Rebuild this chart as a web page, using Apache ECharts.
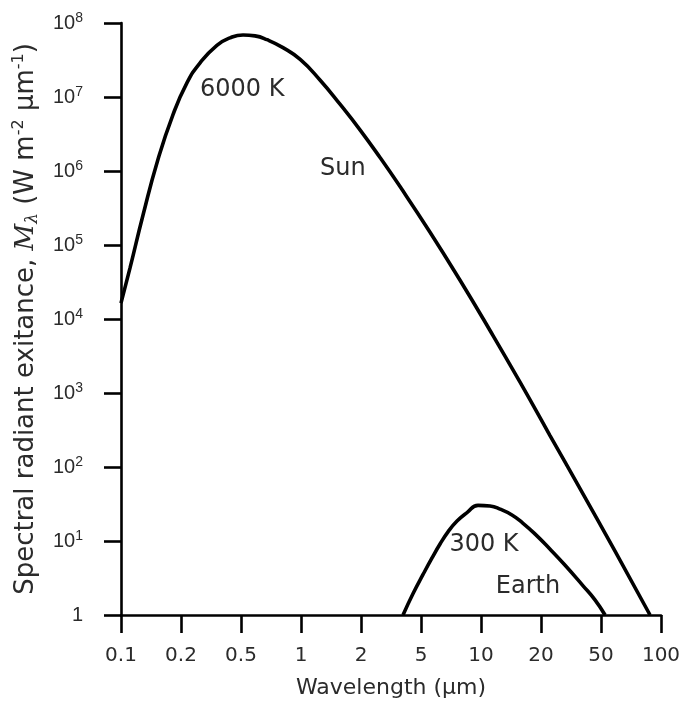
<!DOCTYPE html>
<html>
<head>
<meta charset="utf-8">
<script src="https://cdn.jsdelivr.net/npm/echarts@6/dist/echarts.min.js"></script>
<style>
  html, body { margin: 0; padding: 0; background: #fff; }
  #chart { width: 686px; height: 705px; }
</style>
</head>
<body>
<div id="chart"></div>
<script>
// Tick labels of the (equally spaced 1-2-5) wavelength axis, in µm
const xTicks = [0.1, 0.2, 0.5, 1, 2, 5, 10, 20, 50, 100];
const xTickLabels = ['0.1', '0.2', '0.5', '1', '2', '5', '10', '20', '50', '100'];

// Sun (6000 K): wavelength (µm) and spectral radiant exitance (W m-2 µm-1)
const sunWavelength = [0.1, 0.111, 0.129, 0.153, 0.182, 0.219, 0.267, 0.346, 0.423, 0.512, 0.588, 0.675, 0.812, 0.994,
  1.245, 1.569, 1.977, 2.675, 3.63, 5.55, 7.85, 11.1, 15.7, 22.9, 36.3, 58.8, 88.1];
const sunExitance = [1.64e4, 4.9e4, 2.54e5, 1.41e6, 5.7e6, 1.55e7, 2.88e7, 5.0e7, 6.3e7, 6.9e7, 6.7e7, 5.95e7, 4.65e7, 3.2e7,
  1.7e7, 8.0e6, 3.6e6, 1.52e6, 6.15e5, 1.49e5, 3.34e4, 7.0e3, 1.4e3, 268, 51, 7.3, 1];

// Earth (300 K)
const earthWavelength = [3.8, 4.43, 5.12, 5.68, 6.23, 6.83, 7.58, 8.51, 9.66, 11.1, 12.46, 14.3, 16.2, 18.7, 22.9, 28.9, 37.9, 45.6, 52.4];
const earthExitance = [1, 1.95, 3.53, 5.9, 9.1, 13.3, 18.6, 24.2, 30.3, 29.7, 27, 22.5, 17.5, 12.4, 7.8, 4.7, 2.5, 1.6, 1];

// Curve annotations: [text, wavelength (µm), exitance]
const sunNotes = [['6000 K', 0.507, 1.24e7], ['Sun', 1.62, 1.07e6]];
const earthNotes = [['300 K', 10.35, 8.9], ['Earth', 17.2, 2.4]];

// Axis scale: each 1-2-5 step takes one unit, log-interpolated inside a step
function toAxis(w) {
  for (let i = 0; i < xTicks.length - 1; i++) {
    if (w <= xTicks[i + 1]) {
      return i + Math.log(w / xTicks[i]) / Math.log(xTicks[i + 1] / xTicks[i]);
    }
  }
  return xTicks.length - 1;
}

const FONT = 'Liberation Sans';
const WIDE = 'DejaVu Sans';
const TXT = '#2b2b2b';

function pairs(ws, vs) { return ws.map((w, i) => [toAxis(w), vs[i]]); }
function marks(list) {
  return {
    symbol: 'circle', symbolSize: 0, silent: true,
    label: {
      show: true, position: 'inside',
      fontFamily: WIDE, fontSize: 24, color: TXT,
      formatter: p => p.name
    },
    data: list.map(a => ({ name: a[0], coord: [toAxis(a[1]), a[2]] }))
  };
}

const chart = echarts.init(document.getElementById('chart'), null, { renderer: 'canvas' });
chart.setOption({
  animation: false,
  backgroundColor: '#fff',
  grid: { left: 121, right: 25, top: 23, bottom: 90, containLabel: false },
  xAxis: {
    type: 'value', min: 0, max: xTicks.length - 1, interval: 1,
    name: 'Wavelength (µm)', nameLocation: 'middle', nameGap: 62,
    nameTextStyle: { fontFamily: WIDE, fontSize: 22, color: TXT },
    axisLine: { show: true, onZero: false, lineStyle: { color: '#000', width: 2.6 } },
    axisTick: { show: true, inside: false, length: 18, lineStyle: { color: '#000', width: 2.6 } },
    axisLabel: {
      margin: 31, fontFamily: WIDE, fontSize: 20, color: TXT,
      formatter: v => xTickLabels[Math.round(v)]
    },
    splitLine: { show: false }
  },
  yAxis: {
    type: 'log', logBase: 10, min: 1, max: 1e8, interval: 1,
    name: '{n|Spectral radiant exitance, }{i|M}{sub|λ}{n| (W m}{sup|-2}{n| μm}{sup|-1}{n|)}',
    nameLocation: 'middle', nameGap: 80, nameRotate: 90,
    nameTextStyle: {
      fontFamily: WIDE, fontSize: 26, color: TXT,
      rich: {
        n: { fontFamily: WIDE, fontSize: 26, color: TXT, lineHeight: 30 },
        i: { fontFamily: 'DejaVu Serif', fontStyle: 'italic', fontSize: 26, color: TXT, lineHeight: 30 },
        sub: { fontFamily: 'DejaVu Serif', fontStyle: 'italic', fontSize: 17, color: TXT, verticalAlign: 'bottom', lineHeight: 17 },
        sup: { fontFamily: WIDE, fontSize: 16, color: TXT, verticalAlign: 'top', lineHeight: 16 }
      }
    },
    axisLine: { show: true, onZero: false, lineStyle: { color: '#000', width: 2.6 } },
    axisTick: { show: true, inside: false, length: 17, lineStyle: { color: '#000', width: 2.6 } },
    axisLabel: {
      margin: 38, fontFamily: FONT, fontSize: 20, color: TXT,
      formatter: v => {
        const e = Math.round(Math.log10(v));
        return e === 0 ? '{b|1}' : '{b|10}{s|' + e + '}';
      },
      rich: {
        b: { fontFamily: FONT, fontSize: 20, color: TXT, lineHeight: 24 },
        s: { fontFamily: FONT, fontSize: 14, color: TXT, verticalAlign: 'top', lineHeight: 14 }
      }
    },
    splitLine: { show: false }
  },
  series: [
    {
      name: 'Sun', type: 'line', smooth: 0.5, showSymbol: false,
      lineStyle: { color: '#000', width: 3.6 },
      data: pairs(sunWavelength, sunExitance),
      markPoint: marks(sunNotes)
    },
    {
      name: 'Earth', type: 'line', smooth: 0.5, showSymbol: false,
      lineStyle: { color: '#000', width: 3.6 },
      data: pairs(earthWavelength, earthExitance),
      markPoint: marks(earthNotes)
    }
  ]
});
</script>
</body>
</html>
